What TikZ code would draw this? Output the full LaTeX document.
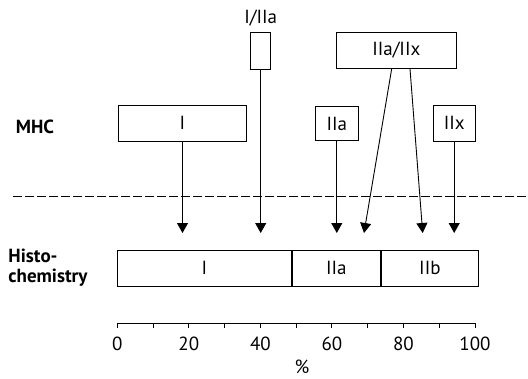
\documentclass[tikz,border=0pt]{standalone}
\usepackage{fontspec}
\setmainfont{PT Sans}
\usetikzlibrary{arrows.meta,calc}
\begin{document}
\begin{tikzpicture}[x=1pt, y=-1pt, line width=0.9pt,
  every node/.style={font=\fontsize{19}{21}\selectfont, inner sep=0pt},
  fibrebox/.style={draw, minimum height=36pt},
  fibrearrow/.style={-{Triangle[width=11pt,length=10pt]}}]
\useasboundingbox (0,0) rectangle (528,378);

% Row labels
\node[font=\fontsize{19}{21}\selectfont\bfseries] (mhc) at (35,126.5) {MHC};
\node[font=\fontsize{19}{20}\selectfont\bfseries, align=left, anchor=west] (histo) at (8,268) {Histo-\\chemistry};

% MHC boxes
\node[fibrebox, minimum width=127.7pt] (mI) at (182.5,123.3) {I};
\node[fibrebox, minimum width=20pt, minimum height=37pt] (mIIIa) at (260.7,50.8) {};
\node (lIIIa) at (260.7,18) {I/IIa};
\node[fibrebox, minimum width=42.3pt, minimum height=34pt] (mIIa) at (336.8,123.7) {IIa};
\node[fibrebox, minimum width=41.7pt] (mIIx) at (454.2,123.3) {IIx};
\node[fibrebox, minimum width=120.7pt] (mIIaIIx) at (396.3,50.3) {IIa/IIx};

% Separator
\draw[dashed, dash pattern=on 8.5pt off 3.5pt] (13,196) -- (528,196);

% Histochemistry bar
\node[fibrebox, minimum width=173.4pt, minimum height=35.3pt, anchor=west] (hI) at (117.3,268.3) {I};
\node[fibrebox, minimum width=88.6pt, minimum height=35.3pt, anchor=west] (hIIa) at (hI.east) {IIa};
\node[fibrebox, minimum width=96.7pt, minimum height=35.3pt, anchor=west] (hIIb) at (hIIa.east) {IIb};

% Arrows
\coordinate (tip) at (0,233);
\draw[fibrearrow] (mI.south) -- (mI.south |- tip);
\draw[fibrearrow] (mIIIa.south) -- (mIIIa.south |- tip);
\draw[fibrearrow] (mIIa.south) -- (mIIa.south |- tip);
\draw[fibrearrow] (mIIx.south) -- (mIIx.south |- tip);
\coordinate (tA) at (364,233);
\coordinate (tB) at (422.7,233);
\draw[fibrearrow] ($(mIIaIIx.south)+(-4.6,0)$) -- (tA);
\draw[fibrearrow] ($(mIIaIIx.south)+(13.7,0)$) -- (tB);

% Axis
\draw (117.3,323) -- (475,323);
\foreach \p in {0,10,...,100}
  \draw (117.3+3.577*\p,323) -- ++(0,5);
\foreach \p in {0,20,...,100}
  \node (n\p) at (117.3+3.577*\p,344) {\p};
\node (pct) at (302,367) {\%};
\end{tikzpicture}
\end{document}
